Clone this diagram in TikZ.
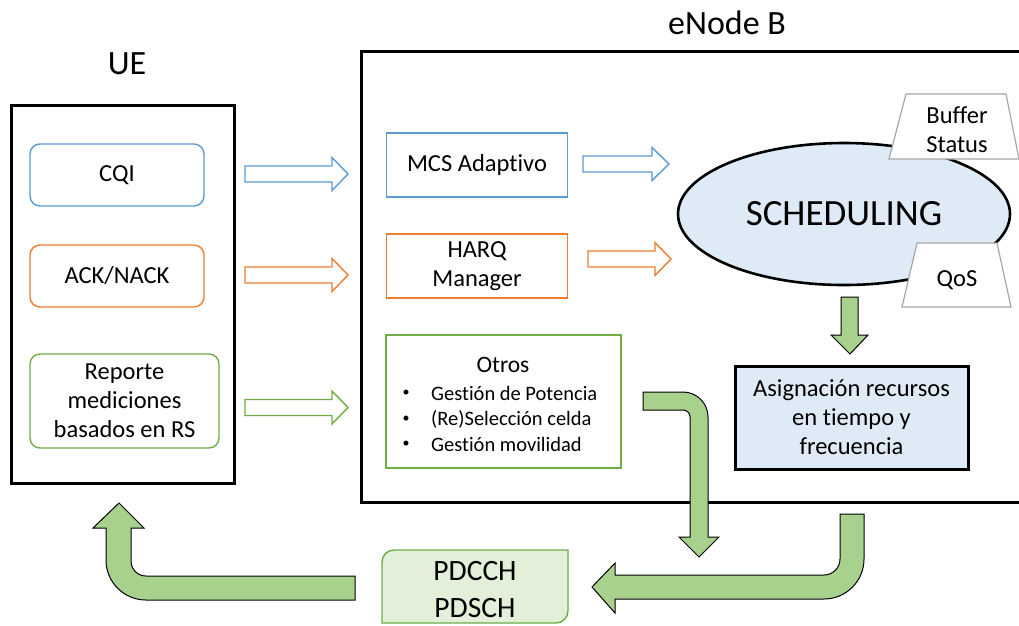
\documentclass[tikz,border=0pt]{standalone}
\usepackage{fontspec}
\setmainfont{Carlito}[Ligatures=NoCommon]
\usetikzlibrary{shapes.geometric}

\definecolor{lineblue}{HTML}{5B9BD5}
\definecolor{lineorange}{HTML}{ED7D31}
\definecolor{linegreen}{HTML}{70AD47}
\definecolor{paleblue}{HTML}{DEEBF7}
\definecolor{palegreen}{HTML}{E2F0D9}
\definecolor{arrowgreen}{HTML}{A9D18E}
\definecolor{trapgray}{HTML}{A6A6A6}

% open (outlined) block arrow: colour, tail x, head base x, tip x, centre y
\newcommand{\openarrow}[5]{%
  \draw[#1, line width=1.4pt, line join=miter, fill=white]
    (#2,#5-8) -- (#3,#5-8) -- (#3,#5-16.5) -- (#4,#5) -- (#3,#5+16.5)
    -- (#3,#5+8) -- (#2,#5+8) -- cycle;}

\begin{document}
\begin{tikzpicture}[x=1pt,y=-1pt,
  frame/.style={draw=black, line width=3pt, inner sep=0pt},
  txt/.style={font=\fontsize{24.5}{29}\selectfont, align=center, inner sep=0pt},
  roundbox/.style={txt, draw, rounded corners=10pt, line width=1.4pt},
  plainbox/.style={txt, draw, line width=1.4pt},
  bigtxt/.style={font=\fontsize{34}{40}\selectfont, inner sep=0pt},
  listtxt/.style={font=\fontsize{20.5}{25}\selectfont, inner sep=0pt},
  trap/.style={draw=trapgray, line width=1.2pt, fill=white},
  bentarrow/.style={draw=black, line width=1pt, fill=arrowgreen, line join=miter}
]
\useasboundingbox (0,0) rectangle (1019,625);
\clip (0,0) rectangle (1019,625);
\fill[white] (0,0) rectangle (1019,625);

% titles
\node[bigtxt] (uelabel) at (127,64) {UE};
\node[bigtxt] (enblabel) at (727,23) {eNode B};

% outer frames
\node[frame, minimum width=223pt, minimum height=378pt] (ue) at (122.5,294) {};
\node[frame, minimum width=700pt, minimum height=451pt] (enb) at (711,276.5) {};

% UE reports
\node[roundbox, draw=lineblue, minimum width=174pt, minimum height=62pt] (cqi) at (117,175) {CQI};
\node[roundbox, draw=lineorange, minimum width=174pt, minimum height=62pt] (ack) at (117,276) {ACK/NACK};
\node[roundbox, draw=linegreen, minimum width=189pt, minimum height=94pt] (rs) at (124.5,401) {Reporte\\mediciones\\basados en RS};

\openarrow{lineblue}{245}{332}{348}{174}
\openarrow{lineorange}{245}{332}{348}{275}
\openarrow{linegreen}{245}{332}{348}{407.5}

% eNode B functions
\node[plainbox, draw=lineblue, minimum width=181pt, minimum height=64pt] (mcs) at (477,165) {MCS Adaptivo};
\node[plainbox, draw=lineorange, minimum width=181pt, minimum height=64pt] (harq) at (477,266) {HARQ\\Manager};
\node[plainbox, draw=linegreen, minimum width=235pt, minimum height=133pt] (otros) at (503.5,401.5) {};
\node[txt, font=\fontsize{23.5}{28}\selectfont] (otrostitle) at (503,365) {Otros};
\node[font=\fontsize{14}{16}\selectfont, inner sep=0pt] (b1) at (406,393) {•};
\node[font=\fontsize{14}{16}\selectfont, inner sep=0pt] (b2) at (406,419) {•};
\node[font=\fontsize{14}{16}\selectfont, inner sep=0pt] (b3) at (406,444) {•};
\node[listtxt, anchor=west] (l1) at (431,393) {Gestión de Potencia};
\node[listtxt, anchor=west] (l2) at (431,419) {(Re)Selección celda};
\node[listtxt, anchor=west] (l3) at (431,444) {Gestión movilidad};

\openarrow{lineblue}{583}{652}{669}{164}
\openarrow{lineorange}{588}{655}{671}{259}

% scheduler and its inputs
\node[ellipse, draw=black, line width=2.6pt, fill=paleblue, minimum width=332pt, minimum height=142pt, inner sep=0pt,
      font=\fontsize{37}{44}\selectfont] (sched) at (844,214) {SCHEDULING};
\draw[trap] (906,94) -- (1006,94) -- (1019,159) -- (889,159) -- cycle;
\node[txt] (buffer) at (957,129.5) {Buffer\\Status};
\draw[trap] (917,243) -- (997,243) -- (1011,307) -- (902,307) -- cycle;
\node[txt] (qos) at (957,280) {QoS};

% resource allocation
\draw[bentarrow] (841,297) -- (858,297) -- (858,335) -- (868,335) -- (850,354) -- (831,335) -- (841,335) -- cycle;
\node[txt, draw=black, line width=3pt, fill=paleblue, minimum width=233pt, minimum height=103pt] (asig) at (851.5,417.5)
  {Asignación recursos\\en tiempo y\\frecuencia};

% downlink channels
\draw[draw=linegreen, line width=1.4pt, fill=palegreen]
  (382,623) -- (382,562) .. controls (382,555.4) and (387.4,550) .. (394,550) -- (568,550)
  -- (568,611) .. controls (568,617.6) and (562.6,623) .. (556,623) -- cycle;
\node[font=\fontsize{29.5}{37}\selectfont, align=center, inner sep=0pt] (pdch) at (475,590) {PDCCH\\PDSCH};

% bent arrows
\draw[bentarrow] (643,392) -- (683,392) .. controls (696.8,392) and (708,403.2) .. (708,417)
  -- (708,537) -- (719,537) -- (699,557) -- (679,537) -- (690,537) -- (690,417)
  .. controls (690,413.1) and (686.9,410) .. (683,410) -- (643,410) -- cycle;
\draw[bentarrow] (840,514) -- (864,514) -- (864,559) .. controls (864,581.1) and (846.1,599) .. (824,599)
  -- (615,599) -- (615,613) -- (592,587) -- (615,563) -- (615,575) -- (824,575)
  .. controls (832.8,575) and (840,567.8) .. (840,559) -- cycle;
\draw[bentarrow] (355,576) -- (146,576) .. controls (137.7,576) and (131,569.3) .. (131,561)
  -- (131,528) -- (144,528) -- (119,503) -- (93,528) -- (106,528) -- (106,560)
  .. controls (106,582.1) and (123.9,600) .. (146,600) -- (355,600) -- cycle;
\end{tikzpicture}
\end{document}
